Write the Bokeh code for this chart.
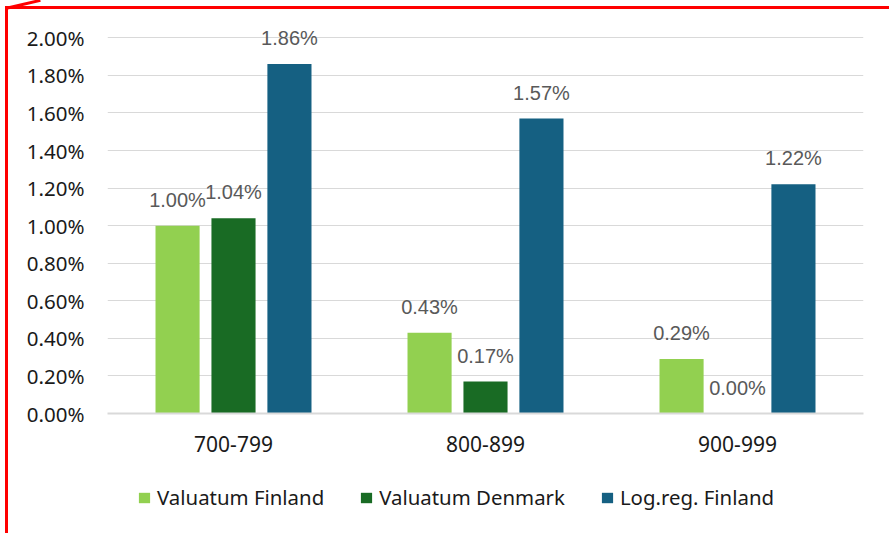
from bokeh.plotting import figure
from bokeh.layouts import column
from bokeh.models import (ColumnDataSource, FactorRange, Range1d, LabelSet, Legend, LegendItem,
                          NumeralTickFormatter, SingleIntervalTicker, InlineStyleSheet)
from bokeh.transform import dodge
from bokeh.core.properties import value
from bokeh.embed import file_html
from bokeh.resources import INLINE

categories = ["700-799", "800-899", "900-999"]
valuatum_finland = [0.0100, 0.0043, 0.0029]
valuatum_denmark = [0.0104, 0.0017, 0.0000]
logreg_finland = [0.0186, 0.0157, 0.0122]
series_names = ["Valuatum Finland", "Valuatum Denmark", "Log.reg. Finland"]
colors = ["#92D050", "#196B24", "#156082"]

src = ColumnDataSource(dict(
    cat=categories,
    vf=valuatum_finland, vd=valuatum_denmark, lr=logreg_finland,
    vf_t=[f"{v*100:.2f}%" for v in valuatum_finland],
    vd_t=[f"{v*100:.2f}%" for v in valuatum_denmark],
    lr_t=[f"{v*100:.2f}%" for v in logreg_finland],
))

W = 881
H_MAIN, H_LEG = 460, 64
p = figure(width=W, height=H_MAIN, x_range=FactorRange(*categories), y_range=Range1d(0, 0.0214),
           output_backend="svg", toolbar_location=None,
           min_border_left=99, min_border_right=26, min_border_top=2, min_border_bottom=56)
p.outline_line_color = None
p.background_fill_color = "white"
p.border_fill_color = "white"
p.x_range.range_padding = 0
p.x_range.group_padding = 0

FONT = "Noto Sans"
offs = [-0.222, 0.0, 0.222]
fields = ["vf", "vd", "lr"]
for f, o, c in zip(fields, offs, colors):
    p.vbar(x=dodge("cat", o, range=p.x_range), top=f, width=0.175, source=src,
           fill_color=c, line_color=None)
    lab = LabelSet(x=dodge("cat", o, range=p.x_range), y=f, text=f + "_t", source=src,
                   text_align="center", text_baseline="middle", y_offset=26,
                   text_font=value("Liberation Sans"), text_font_size="20px",
                   text_color="#595959")
    p.add_layout(lab)

# axes
p.yaxis.ticker = SingleIntervalTicker(interval=0.002)
p.yaxis.formatter = NumeralTickFormatter(format="0.00%")
p.yaxis.axis_line_color = None
p.yaxis.major_tick_line_color = None
p.yaxis.minor_tick_line_color = None
p.yaxis.major_label_standoff = 17
p.yaxis.major_label_text_font = FONT
p.yaxis.major_label_text_font_size = "20.5px"
p.yaxis.major_label_text_color = "#1A1A1A"

p.xaxis.axis_line_color = "#D9D9D9"
p.xaxis.axis_line_width = 2
p.xaxis.major_tick_line_color = None
p.xaxis.minor_tick_line_color = None
p.xaxis.major_label_standoff = 16
p.xaxis.major_label_text_font = FONT
p.xaxis.major_label_text_font_size = "21px"
p.xaxis.major_label_text_color = "#1A1A1A"

p.xgrid.grid_line_color = None
p.ygrid.grid_line_color = "#D9D9D9"
p.ygrid.grid_line_width = 1

# legend strip below the chart (legend entries use zero-height proxy bars)
p2 = figure(width=W, height=H_LEG, output_backend="svg", toolbar_location=None,
            x_axis_type=None, y_axis_type=None, x_range=Range1d(0, 1), y_range=Range1d(0, 1),
            min_border_left=0, min_border_right=0, min_border_top=0, min_border_bottom=0)
p2.outline_line_color = None
p2.background_fill_color = "white"
p2.border_fill_color = "white"
items = []
for c, n in zip(colors, series_names):
    r = p2.vbar(x=[0], top=[0], bottom=[0], width=0.01, fill_color=c, line_color=None)
    items.append(LegendItem(label=n, renderers=[r]))
legend = Legend(items=items, orientation="horizontal", location=(30, 22),
                glyph_width=14, glyph_height=13, label_standoff=6, spacing=35,
                padding=0, margin=0, border_line_color=None, background_fill_alpha=0,
                label_text_font=FONT, label_text_font_size="20.4px", label_text_color="#1A1A1A")
p2.add_layout(legend)

lay = column(p, p2, spacing=0)
# red annotation frame drawn around the chart (top and left edges)
lay.styles = {"margin-left": "5px", "margin-top": "6px",
              "border-top": "3px solid #FF0000", "border-left": "3px solid #FF0000"}
lay.stylesheets = [InlineStyleSheet(css=":host::before { content: ''; position: fixed; left: 5px; top: 7px; "
                                        "width: 36px; height: 3px; background: #FF0000; "
                                        "transform-origin: 0 0; transform: rotate(-13deg); z-index: 10; }")]

open("out.html", "w").write(file_html(lay, INLINE))
